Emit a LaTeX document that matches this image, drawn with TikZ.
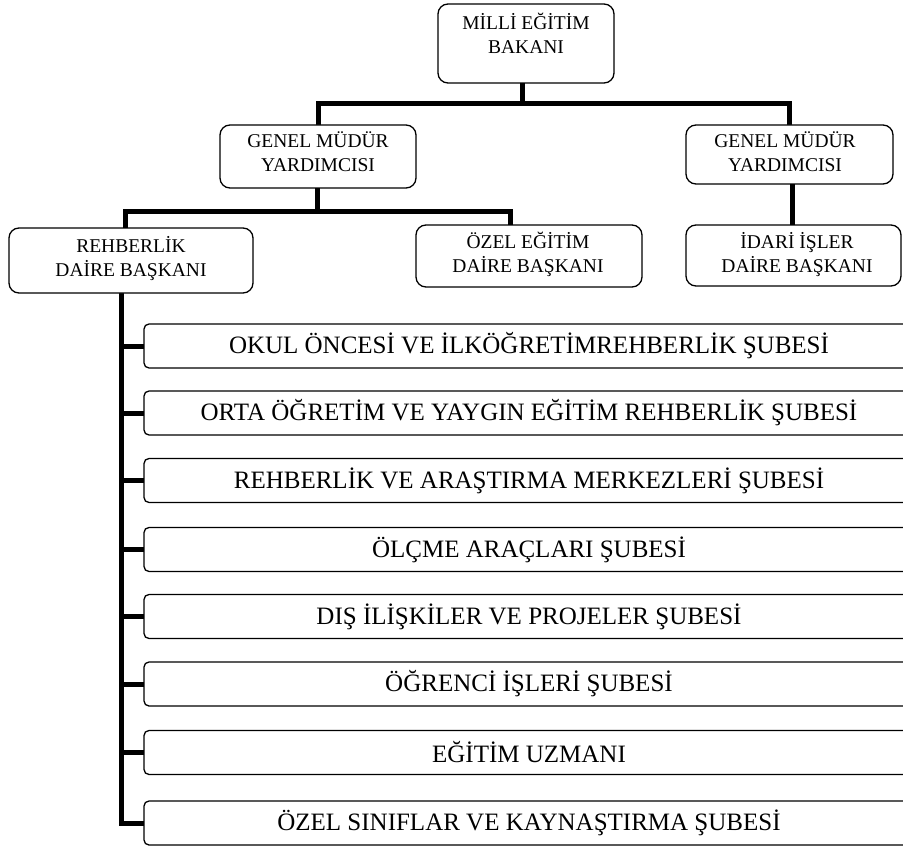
\documentclass[tikz,border=0pt]{standalone}
\usepackage{fontspec}
\setmainfont{Liberation Serif}
\usetikzlibrary{backgrounds}
\tikzset{
  ubox/.style={draw, line width=1.3pt, rounded corners=10pt, fill=white, inner sep=0pt},
  lbox/.style={draw, line width=1.3pt, rounded corners=5pt, fill=white, inner sep=0pt,
    minimum width=770pt, minimum height=44pt, font=\fontsize{25}{29}\selectfont},
  utext/.style={align=center, inner sep=0pt, font=\fontsize{19.5}{24}\selectfont},
  conn/.style={line width=5pt, line cap=rect, line join=miter, draw=black}
}
\begin{document}
\begin{tikzpicture}[x=1pt, y=-1pt]
\useasboundingbox (0,0) rectangle (903,848);
% upper boxes
\node[ubox, minimum width=176pt, minimum height=79pt] (min) at (526,43.5) {};
\node[ubox, minimum width=196pt, minimum height=63pt] (gmyL) at (318,156.5) {};
\node[ubox, minimum width=207pt, minimum height=59pt] (gmyR) at (789.5,154.5) {};
\node[ubox, minimum width=244pt, minimum height=65pt] (reh) at (131,260.5) {};
\node[ubox, minimum width=226pt, minimum height=62pt] (ozel) at (529,256) {};
\node[ubox, minimum width=215pt, minimum height=61pt] (idari) at (793.5,255.5) {};
% texts of upper boxes
\node[utext] (minT) at (526,33) {MİLLİ EĞİTİM\\BAKANI};
\node[utext] (gmyLT) at (318,152) {GENEL MÜDÜR\\YARDIMCISI};
\node[utext] (gmyRT) at (785,152) {GENEL MÜDÜR\\YARDIMCISI};
\node[utext] (rehT) at (131,259) {REHBERLİK\\DAİRE BAŞKANI};
\node[utext] (ozelT) at (528,254) {ÖZEL EĞİTİM\\DAİRE BAŞKANI};
\node[utext] (idariT) at (797,255) {İDARİ İŞLER\\DAİRE BAŞKANI};
% list boxes
\node[lbox] (b1) at (529,346) {OKUL ÖNCESİ VE İLKÖĞRETİMREHBERLİK ŞUBESİ};
\node[lbox] (b2) at (529,413) {ORTA ÖĞRETİM VE YAYGIN EĞİTİM REHBERLİK ŞUBESİ};
\node[lbox] (b3) at (529,480.5) {REHBERLİK VE ARAŞTIRMA MERKEZLERİ ŞUBESİ};
\node[lbox] (b4) at (529,549.5) {ÖLÇME ARAÇLARI ŞUBESİ};
\node[lbox] (b5) at (529,616.5) {DIŞ İLİŞKİLER VE PROJELER ŞUBESİ};
\node[lbox] (b6) at (529,684) {ÖĞRENCİ İŞLERİ ŞUBESİ};
\node[lbox] (b7) at (529,752.5) {EĞİTİM UZMANI};
\node[lbox] (b8) at (529,823) {ÖZEL SINIFLAR VE KAYNAŞTIRMA ŞUBESİ};
% junction coordinates
\coordinate (j1) at (522,104);
\coordinate (j2) at (317,211.5);
\coordinate (j3) at (125,211.5);
\coordinate (j4) at (510,211.5);
\coordinate (sp) at (121.5,300);
\begin{scope}[on background layer]
  \draw[conn] (j1 |- min.south) -- (j1);
  \draw[conn] (gmyL.north) |- (j1) -| (gmyR.north);
  \draw[conn] (j2 |- gmyL.south) -- (j2);
  \draw[conn] (j3 |- reh.north) -- (j3) -- (j4) -- (j4 |- ozel.north);
  \draw[conn] (idari.north -| 792,0) -- (gmyR.south -| 792,0);
  \draw[conn] (sp |- reh.south) -- (sp |- b8.west);
  \foreach \b in {b1,b2,b3,b4,b5,b6,b7,b8}
    \draw[conn] (sp |- \b.west) -- (\b.west);
\end{scope}
\end{tikzpicture}
\end{document}
